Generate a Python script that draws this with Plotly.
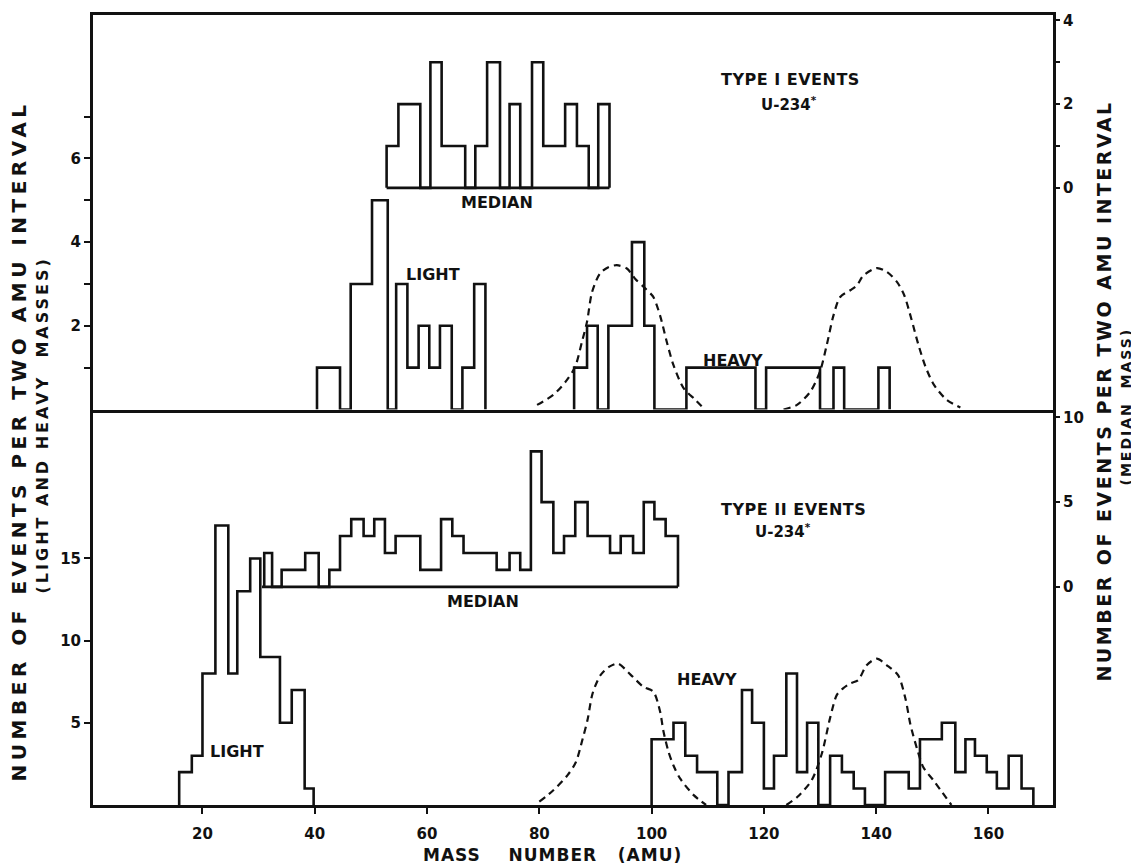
import plotly.graph_objects as go

# ---------------- data (mass number in AMU, counts per two-AMU interval) ----------------
# Type I events (top panel)
t1_light_edges = [40.4, 44.5, 46.4, 50.2, 53.0, 54.5, 56.5, 58.5, 60.4, 62.3, 64.4, 66.3, 68.4, 70.4]
t1_light_counts = [1, 0, 3, 5, 0, 3, 1, 2, 1, 2, 0, 1, 3]

t1_heavy_edges = [86.2, 88.5, 90.4, 92.3, 96.5, 98.7, 100.5, 106.2, 118.5, 120.4, 130.0, 132.4, 134.3, 140.4, 142.4]
t1_heavy_counts = [1, 2, 0, 2, 4, 2, 0, 1, 0, 1, 0, 1, 0, 1]

t1_median_edges = [52.8, 54.9, 58.8, 60.6, 62.6, 66.8, 68.6, 70.7, 73.0, 74.7, 76.6, 78.7, 80.7, 84.6,
                   86.7, 88.8, 90.5, 92.5]
t1_median_counts = [1, 2, 0, 3, 1, 0, 1, 3, 0, 2, 0, 3, 1, 2, 1, 0, 2]

t1_yield_light_x = [79.6, 82.5, 84.9, 86.4, 87.6, 88.5, 89.4, 90.8, 92.3, 93.8, 95.6, 97.1, 98.9, 100.3,
                    101.5, 102.7, 103.9, 105.7, 107.8, 109.5]
t1_yield_light_y = [0.11, 0.35, 0.7, 1.03, 1.62, 2.1, 2.81, 3.25, 3.4, 3.45, 3.37, 3.12, 2.89, 2.69,
                    2.25, 1.62, 1.06, 0.51, 0.23, 0.0]
t1_yield_heavy_x = [123.5, 125.9, 128.3, 130.0, 131.2, 132.4, 133.6, 135.4, 136.6, 137.7, 140.1, 141.9,
                    143.7, 145.0, 146.3, 147.5, 148.8, 150.3, 152.5, 155.0]
t1_yield_heavy_y = [0.0, 0.11, 0.43, 0.91, 1.54, 2.25, 2.69, 2.85, 2.97, 3.2, 3.38, 3.29,
                    3.05, 2.73, 2.15, 1.56, 1.02, 0.59, 0.24, 0.05]

# Type II events (bottom panel)
t2_light_edges = [15.85, 18.1, 20.0, 22.3, 24.6, 26.2, 28.5, 30.3, 33.8, 35.9, 38.2, 39.8]
t2_light_counts = [2, 3, 8, 17, 8, 13, 15, 9, 5, 7, 1]

t2_median_edges = [31.0, 32.4, 34.1, 38.3, 40.7, 42.6, 44.5, 46.5, 48.7, 50.6, 52.5, 54.4, 58.8, 62.5,
                   64.5, 66.5, 72.4, 74.7, 76.6, 78.5, 80.4, 82.5, 84.4, 86.4, 88.6, 92.6, 94.5, 96.7,
                   98.6, 100.5, 102.5, 104.7]
t2_median_counts = [2, 0, 1, 2, 0, 1, 3, 4, 3, 4, 2, 3, 1, 4, 3, 2, 1, 2, 1, 8, 5, 2, 3, 5, 3, 2, 3, 2,
                    5, 4, 3]
t2_median_base = [30.6, 104.7]

t2_heavy_edges = [100.0, 103.9, 106.0, 108.1, 111.7, 113.7, 116.1, 117.9, 120.0, 121.8, 124.0, 125.9,
                  127.7, 129.7, 131.8, 133.9, 136.0, 138.0, 141.6, 145.8, 147.8, 151.7, 154.1, 155.9,
                  157.6, 159.7, 161.5, 163.6, 165.9, 168.0]
t2_heavy_counts = [4, 5, 3, 2, 0, 2, 7, 5, 1, 3, 8, 2, 5, 0, 3, 2, 1, 0, 2, 1, 4, 5, 2, 4, 3, 2, 1, 3, 1]

t2_yield_light_x = [80.0, 82.5, 85.0, 86.5, 87.7, 88.6, 89.5, 90.9, 92.4, 94.0, 96.2, 98.5, 100.3, 101.5,
                    102.1, 103.0, 103.9, 105.1, 107.5, 109.7]
t2_yield_light_y = [0.2, 0.9, 1.8, 2.6, 4.0, 5.2, 6.8, 7.9, 8.4, 8.6, 7.95, 7.2, 6.9, 5.7,
                    4.5, 3.25, 2.4, 1.6, 0.6, 0.0]
t2_yield_heavy_x = [124.0, 126.0, 128.5, 130.3, 131.8, 133.0, 134.1, 135.4, 136.8, 138.3, 140.1, 141.9,
                    143.9, 145.2, 146.1, 147.3, 148.4, 150.2, 153.4]
t2_yield_heavy_y = [0.0, 0.5, 1.5, 3.1, 5.3, 6.7, 7.1, 7.4, 7.6, 8.5, 8.9, 8.5,
                    7.9, 6.5, 4.9, 3.4, 2.3, 1.5, 0.0]

x_ticks = [20, 40, 60, 80, 100, 120, 140, 160]
top_left_ticks = [2, 4, 6]
top_left_minor = [1, 3, 5, 7]
top_right_ticks = [0, 2, 4]
top_right_minor = [1, 3]
bottom_left_ticks = [5, 10, 15]
bottom_right_ticks = [0, 5, 10]

# ---------------- geometry (page pixel coordinates of the plot frame) ----------------
PAGE_W, PAGE_H = 1139, 865
OFF = 8                      # default body margin of the html page
W, H = PAGE_W - OFF, PAGE_H - OFF
L, R, T, B = 93, 1053, 12, 805
MID = 408
TOP_UNIT = 42.0              # px per count, light/heavy (top)
TOP_MED_ZERO, TOP_MED_UNIT = 185.5, 42.0
BOT_UNIT = 16.5
BOT_MED_ZERO, BOT_MED_UNIT = 586.0, 17.0


def px2paper(px, py):
    return (px - L) / (R - L), (B - py) / (B - T)


def step_xy(edges, counts):
    xs = [edges[0]] + list(edges)
    ys = [0] + list(counts) + [0]
    return xs, ys


fig = go.Figure()
LW = 2.6
BLACK = "#111111"


def add_hist(edges, counts, xa, ya):
    xs, ys = step_xy(edges, counts)
    fig.add_trace(go.Scatter(x=xs, y=ys, mode="lines", line=dict(color=BLACK, width=LW, shape="hv"),
                             xaxis=xa, yaxis=ya, hoverinfo="skip", showlegend=False))


def add_base(edges, xa, ya):
    fig.add_trace(go.Scatter(x=[edges[0], edges[-1]], y=[0, 0], mode="lines",
                             line=dict(color=BLACK, width=LW), xaxis=xa, yaxis=ya,
                             hoverinfo="skip", showlegend=False))


def add_curve(xs, ys, xa, ya):
    fig.add_trace(go.Scatter(x=xs, y=ys, mode="lines",
                             line=dict(color=BLACK, width=2.2, dash="7px,5px", shape="spline", smoothing=0.8),
                             xaxis=xa, yaxis=ya, hoverinfo="skip", showlegend=False))


# top panel (x2 / y2 left, y4 right)
add_hist(t1_light_edges, t1_light_counts, "x2", "y2")
add_hist(t1_heavy_edges, t1_heavy_counts, "x2", "y2")
add_hist(t1_median_edges, t1_median_counts, "x2", "y4")
add_base(t1_median_edges, "x2", "y4")
add_curve(t1_yield_light_x, t1_yield_light_y, "x2", "y2")
add_curve(t1_yield_heavy_x, t1_yield_heavy_y, "x2", "y2")

# bottom panel (x / y left, y3 right)
add_hist(t2_light_edges, t2_light_counts, "x", "y")
add_hist(t2_heavy_edges, t2_heavy_counts, "x", "y")
add_hist(t2_median_edges, t2_median_counts, "x", "y3")
add_base(t2_median_base, "x", "y3")
add_curve(t2_yield_light_x, t2_yield_light_y, "x", "y")
add_curve(t2_yield_heavy_x, t2_yield_heavy_y, "x", "y")

split = (B - MID) / (B - T)
FONT = "DejaVu Sans"
tickfont = dict(family=FONT, size=15, color=BLACK, weight="bold")
XR = [0.5, 171.5]

axis_common = dict(showline=True, linewidth=3, linecolor=BLACK, mirror=True, showgrid=False,
                   zeroline=False, ticks="outside", tickcolor=BLACK, tickwidth=2, ticklen=6,
                   tickfont=tickfont)


def minor(vals):
    return dict(tickmode="array", tickvals=vals, ticks="outside", ticklen=6, tickwidth=2,
                tickcolor=BLACK, showgrid=False)


fig.update_layout(
    width=W, height=H,
    margin=dict(l=L - OFF, r=W - (R - OFF), t=T - OFF, b=H - (B - OFF), pad=0),
    paper_bgcolor="white", plot_bgcolor="white",
    showlegend=False,
    xaxis=dict(domain=[0, 1], range=XR, anchor="y", tickmode="array", tickvals=x_ticks,
               ticklabelstandoff=7, **{**axis_common, "mirror": False}),
    xaxis2=dict(domain=[0, 1], range=XR, anchor="y2", matches="x", showticklabels=False,
                **{**axis_common, "ticks": ""}),
    yaxis=dict(domain=[0, split], range=[0, (B - MID) / BOT_UNIT], anchor="x",
               tickmode="array", tickvals=bottom_left_ticks, **axis_common),
    yaxis2=dict(domain=[split, 1], range=[0, (MID - T) / TOP_UNIT], anchor="x2",
                tickmode="array", tickvals=top_left_ticks, minor=minor(top_left_minor), **axis_common),
    yaxis3=dict(overlaying="y", side="right", anchor="x",
                range=[-(B - BOT_MED_ZERO) / BOT_MED_UNIT, (BOT_MED_ZERO - MID) / BOT_MED_UNIT],
                tickmode="array", tickvals=bottom_right_ticks,
                **{**axis_common, "showline": False}),
    yaxis4=dict(overlaying="y2", side="right", anchor="x2",
                range=[-(MID - TOP_MED_ZERO) / TOP_MED_UNIT, (TOP_MED_ZERO - T) / TOP_MED_UNIT],
                tickmode="array", tickvals=top_right_ticks, minor=minor(top_right_minor),
                **{**axis_common, "showline": False}),
)


def label(text, px, py, size=14, angle=0, spacing=None):
    x, y = px2paper(px, py)
    if spacing:
        text = '<span style="letter-spacing:%spx">%s</span>' % (spacing, text)
    fig.add_annotation(x=x, y=y, xref="paper", yref="paper", text=text, showarrow=False,
                       textangle=angle, xanchor="center", yanchor="middle",
                       font=dict(family=FONT, size=size, color=BLACK, weight="bold"))


NB = "\u00a0"
label("MEDIAN", 497, 200, 16)
label("LIGHT", 433, 272, 16)
label("HEAVY", 733, 359, 16)
label("TYPE I EVENTS", 790, 77, 16, spacing=0.5)
label("U-234<sup>*</sup>", 789, 101, 15)

label("MEDIAN", 483, 601, 16)
label("LIGHT", 237, 751, 16)
label("HEAVY", 707, 679, 16)
label("TYPE II EVENTS", 793, 508, 16, spacing=0.5)
label("U-234<sup>*</sup>", 783, 530, 15)

label("MASS" + NB * 4 + "NUMBER" + NB * 3 + "(AMU)", 552, 855, 17, spacing=1)
title_text = "NUMBER OF EVENTS PER TWO AMU INTERVAL"
label(title_text, 19, 440, 20, -90, spacing=4.5)
label("(LIGHT AND HEAVY" + NB + " MASSES)", 42, 424, 16, -90, spacing=3)
label(title_text, 1104, 390, 19, -90, spacing=2.5)
label("(MEDIAN" + NB * 2 + "MASS)", 1126, 405, 14, -90, spacing=2)

fig.write_html("out.html")
